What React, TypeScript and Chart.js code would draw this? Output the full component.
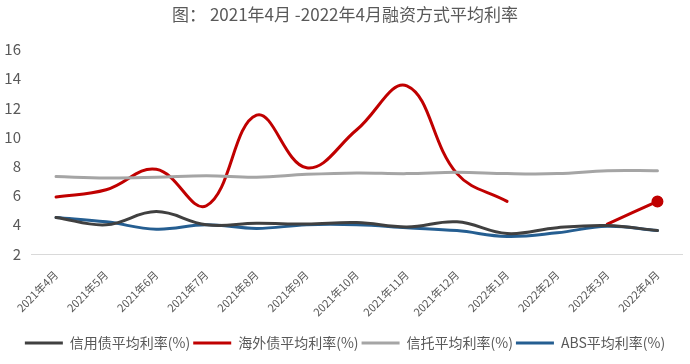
import React, { useEffect, useRef } from "react";
import { Chart, registerables } from "chart.js";

Chart.register(...registerables);

const categories = [
  "2021年4月", "2021年5月", "2021年6月", "2021年7月", "2021年8月", "2021年9月",
  "2021年10月", "2021年11月", "2021年12月", "2022年1月", "2022年2月", "2022年3月", "2022年4月",
];

const creditBond = [4.5, 4.0, 4.9, 4.0, 4.1, 4.05, 4.15, 3.85, 4.2, 3.4, 3.8, 3.95, 3.6];
const overseasBond = [5.9, 6.4, 7.8, 5.3, 11.5, 7.9, 10.5, 13.5, 7.5, 5.6, null, 4.05, 5.6];
const trust = [7.3, 7.2, 7.25, 7.35, 7.25, 7.45, 7.55, 7.5, 7.6, 7.5, 7.5, 7.7, 7.7];
const abs = [4.5, 4.2, 3.7, 4.0, 3.75, 4.0, 4.0, 3.8, 3.6, 3.2, 3.45, 3.9, 3.6];

const seriesNames = ["信用债平均利率(%)", "海外债平均利率(%)", "信托平均利率(%)", "ABS平均利率(%)"];
const seriesColors = ["#404040", "#C00000", "#A5A5A5", "#255E91"];

const titleText = "图： 2021年4月 -2022年4月融资方式平均利率";
const yMin = 2;
const yMax = 16;
const yStep = 2;

const FONT = "'Noto Sans CJK SC', 'Noto Sans', sans-serif";
const TEXT = "#595959";

export default function App() {
  const ref = useRef<HTMLCanvasElement | null>(null);

  useEffect(() => {
    const canvas = ref.current;
    if (!canvas) return;
    const values = [creditBond, overseasBond, trust, abs];
    const chart = new Chart(canvas, {
      type: "line",
      data: {
        labels: categories,
        datasets: values.map((d, i) => ({
          label: seriesNames[i],
          data: d,
          borderColor: seriesColors[i],
          backgroundColor: seriesColors[i],
          borderWidth: 3,
          tension: 0.4,
          spanGaps: false,
          pointRadius: i === 1 ? d.map((_, j) => (j === d.length - 1 ? 4.5 : 0)) : 0,
          pointHoverRadius: 0,
          borderCapStyle: "round" as const,
          order: i === 1 ? 10 : i,
        })),
      },
      options: {
        animation: false,
        responsive: false,
        maintainAspectRatio: false,
        layout: { padding: { left: 0, right: 0, top: 0, bottom: 4 } },
        plugins: {
          title: {
            display: true,
            text: titleText,
            color: TEXT,
            font: { family: FONT, size: 17, weight: "normal" },
            padding: { top: 4, bottom: 25 },
          },
          legend: {
            position: "bottom",
            labels: {
              color: TEXT,
              font: { family: FONT, size: 14 },
              boxWidth: 38,
              boxHeight: 3,
              padding: 3,
              generateLabels: (c: any) =>
                c.data.datasets.map((ds: any, i: number) => ({
                  text: ds.label,
                  fillStyle: ds.borderColor,
                  strokeStyle: ds.borderColor,
                  lineWidth: 0,
                  hidden: false,
                  datasetIndex: i,
                  fontColor: TEXT,
                })),
            },
          },
          tooltip: { enabled: false },
        },
        scales: {
          x: {
            offset: true,
            grid: { display: false, drawTicks: false },
            border: { display: true, color: "#D9D9D9", width: 1 },
            ticks: {
              color: TEXT,
              font: { family: FONT, size: 11 },
              maxRotation: 45,
              minRotation: 45,
              padding: 14,
              autoSkip: false,
            },
            afterFit: (s: any) => {
              s.height = 79;
            },
          },
          y: {
            min: yMin,
            max: yMax,
            grid: { display: false, drawTicks: false },
            border: { display: false },
            ticks: {
              stepSize: yStep,
              color: TEXT,
              font: { family: FONT, size: 15 },
              padding: 10,
            },
            afterFit: (s: any) => {
              s.width = 31;
            },
          },
        },
      },
    });
    return () => chart.destroy();
  }, []);

  return (
    <div style={{ position: "absolute", left: 0, top: 0, width: 690, height: 364, background: "#fff" }}>
      <canvas ref={ref} width={690} height={364} style={{ width: 690, height: 364 }} />
    </div>
  );
}
